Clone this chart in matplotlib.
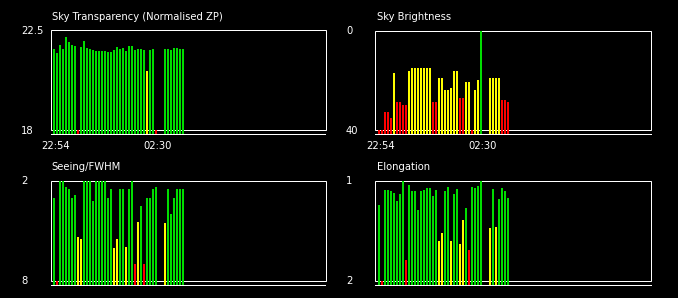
import matplotlib
matplotlib.use("Agg")
import matplotlib.pyplot as plt
from matplotlib.patches import Rectangle
from matplotlib.transforms import blended_transform_factory, offset_copy

# one slot per frame, None = no frame taken
# flags: g = good, y = marginal, r = bad, - = no frame
transparency = [21.65, 21.48, 21.83, 21.68, 22.19, 21.96, 21.83, 21.78, 18.0, 21.74,
                22.01, 21.69, 21.65, 21.60, 21.56, 21.56, 21.56, 21.56, 21.51, 21.51,
                21.60, 21.74, 21.65, 21.69, 21.56, 21.78, 21.78, 21.60, 21.65, 21.65,
                21.60, 20.70, 21.60, 21.65, 18.0, None, None, 21.65, 21.65, 21.60,
                21.69, 21.69, 21.65, 21.65]
transparency_flags = ("gggggggg" "r" "gggggggggggggggggggggg" "y" "gg" "r" "--" "ggggggg")

brightness = [40, 40, 32.8, 32.8, 35.2, 16.8, 28.8, 28.8, 30, 30,
              16, 15.2, 15.2, 15.2, 15.2, 15.2, 15.2, 15.2, 28.8, 28.8,
              19.2, 19.2, 24, 24, 23.2, 16, 16, 27.2, 27.2, 20.8,
              20.8, 40, 24, 20, 0, None, None, 19.2, 19.2, 19.2,
              19.2, 28, 28, 28.8]
brightness_flags = ("rrrrr" "y" "rrrr" "yyyyyyyy" "rr" "yyyyyyy" "rr" "yy" "r" "yy" "g"
                    "--" "yyyy" "rrr")

seeing = [3.02, 8.0, 2.0, 2.0, 2.36, 2.48, 3.02, 2.84, 5.36, 5.48,
          2.0, 2.0, 2.0, 3.2, 2.0, 2.0, 2.0, 2.0, 3.02, 2.48,
          6.02, 5.48, 2.48, 2.48, 5.96, 2.48, 2.0, 6.98, 4.46, 3.5,
          6.98, 3.02, 3.02, 2.48, 2.36, None, None, 4.52, 2.48, 3.98,
          3.02, 2.48, 2.48, 2.48]
seeing_flags = ("g" "r" "gggggg" "yy" "gggggggggg" "yy" "gg" "y" "gg" "r" "y" "g" "r" "gggg"
                "--" "y" "gggggg")

elongation = [1.24, 2.0, 1.09, 1.09, 1.10, 1.12, 1.20, 1.13, 1.00, 1.79,
              1.04, 1.10, 1.10, 1.29, 1.10, 1.09, 1.07, 1.07, 1.15, 1.09,
              1.60, 1.52, 1.10, 1.06, 1.60, 1.13, 1.08, 1.63, 1.39, 1.27,
              1.69, 1.06, 1.07, 1.05, 1.00, None, None, 1.47, 1.08, 1.46,
              1.18, 1.07, 1.10, 1.17]
elongation_flags = ("g" "r" "ggggggg" "r" "gggggggggg" "yy" "gg" "y" "gg" "yy" "g" "r" "gggg"
                    "--" "y" "g" "y" "gggg")

time_labels = ["22:54", "02:30"]
time_slots = [0.5, 34.67]

colours = {"g": "#00dd00", "y": "#ffff00", "r": "#ff0000"}

W, H = 678, 298
fig = plt.figure(figsize=(W / 100, H / 100), dpi=100, facecolor="black")
plt.rcParams["font.family"] = "DejaVu Sans"
FS = 7.2
LW = 0.72

# title, values, flags, top value, bottom value, top label, bottom label, row, col
panels = [
    ("Sky Transparency (Normalised ZP)", transparency, transparency_flags, 22.5, 18, "22.5", "18", 0, 0),
    ("Sky Brightness", brightness, brightness_flags, 0, 40, "0", "40", 0, 1),
    ("Seeing/FWHM", seeing, seeing_flags, 2, 8, "2", "8", 1, 0),
    ("Elongation", elongation, elongation_flags, 1, 2, "1", "2", 1, 1),
]

for title, vals, flags, top, bot, top_lab, bot_lab, row, col in panels:
    left = 50.5 + 325 * col
    ytop = 30.5 + 150 * row
    ax = fig.add_axes([left / W, 1 - (ytop + 104) / H, 275 / W, 104 / H])
    ax.set_facecolor("black")

    # bars start from the line 4 px under the frame
    base = bot - (top - bot) * 0.04
    ax.set_ylim(base, top)
    ax.set_xlim(-7 / 6, 90.5)

    xs = [i for i, v in enumerate(vals) if v is not None]
    hs = [vals[i] - base for i in xs]
    cs = [colours[flags[i]] for i in xs]
    ax.bar(xs, hs, bottom=base, width=2 / 3, color=cs, linewidth=0, zorder=3)

    trans = blended_transform_factory(ax.transAxes, ax.transData)
    ax.add_patch(Rectangle((0, bot), 1, top - bot, transform=trans, fill=False,
                           edgecolor="white", lw=LW, zorder=2, clip_on=False))

    for s in ["top", "left", "right"]:
        ax.spines[s].set_visible(False)
    ax.spines["bottom"].set_color("white")
    ax.spines["bottom"].set_linewidth(LW)

    ax.set_yticks([])
    if row == 0:
        ax.set_xticks(time_slots, time_labels)
        ax.tick_params(axis="x", length=0, pad=4.6, colors="white", labelsize=FS)
    else:
        ax.set_xticks([])

    lab_trans = offset_copy(blended_transform_factory(fig.transFigure, ax.transData),
                            fig=fig, x=0, y=-3.4, units="dots")
    lx = (21 + 325 * col) / W
    ax.text(lx, top, top_lab, transform=lab_trans, color="white", fontsize=FS,
            ha="left", va="baseline")
    ax.text(lx, bot, bot_lab, transform=lab_trans, color="white", fontsize=FS,
            ha="left", va="baseline")

    fig.text((left + 1.2) / W, 1 - (ytop - 10.5) / H, title, color="white",
             fontsize=FS, ha="left", va="baseline")

fig.savefig("out.png", dpi=100, facecolor="black")
